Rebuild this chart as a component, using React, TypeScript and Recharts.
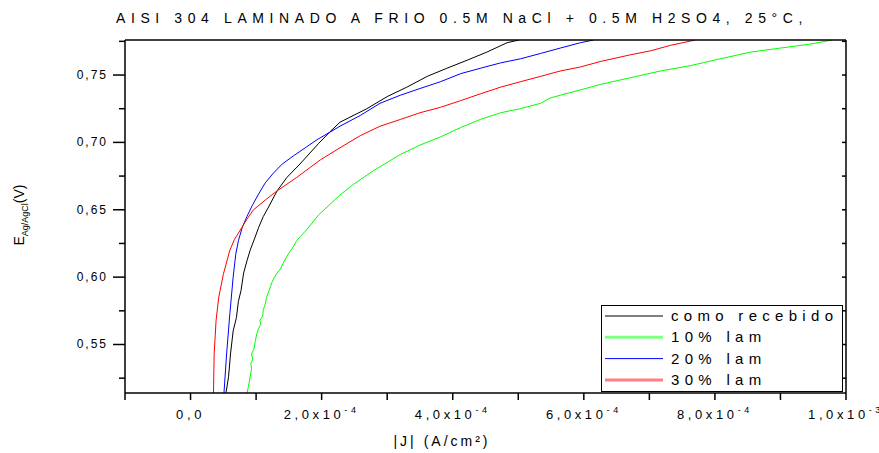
import React from "react";
import { LineChart, Line, XAxis, YAxis } from "recharts";

// |J| in units of 1e-4 A/cm², E in V vs Ag/AgCl
const jComo = [0.54, 0.58, 0.61, 0.65, 0.7, 0.73, 0.77, 0.81, 0.86, 0.91, 0.98, 1.04, 1.11, 1.19, 1.32, 1.47, 1.67, 1.95, 2.13, 2.28, 2.69, 3.0, 3.3, 3.61, 3.91, 4.22, 4.52, 4.83, 5.01];
const eComo = [0.514, 0.526, 0.543, 0.56, 0.57, 0.582, 0.59, 0.603, 0.612, 0.62, 0.629, 0.637, 0.645, 0.652, 0.664, 0.674, 0.684, 0.699, 0.708, 0.715, 0.725, 0.734, 0.741, 0.749, 0.755, 0.761, 0.767, 0.774, 0.776];

const j10 = [0.86, 0.88, 0.91, 0.93, 0.92, 0.95, 0.93, 0.97, 0.99, 1.01, 1.04, 1.07, 1.06, 1.1, 1.11, 1.14, 1.16, 1.19, 1.22, 1.24, 1.28, 1.32, 1.37, 1.42, 1.49, 1.56, 1.62, 1.67, 1.77, 1.95, 2.28, 2.49, 2.79, 3.2, 3.5, 3.81, 4.12, 4.42, 4.73, 5.03, 5.34, 5.49, 5.64, 5.95, 6.25, 6.71, 7.17, 7.63, 8.08, 8.54, 9.0, 9.46, 9.79];
const e10 = [0.514, 0.518, 0.526, 0.532, 0.536, 0.539, 0.543, 0.547, 0.553, 0.558, 0.562, 0.565, 0.568, 0.571, 0.576, 0.58, 0.585, 0.589, 0.593, 0.596, 0.6, 0.603, 0.606, 0.611, 0.617, 0.622, 0.627, 0.63, 0.635, 0.646, 0.661, 0.669, 0.679, 0.691, 0.698, 0.704, 0.711, 0.717, 0.722, 0.725, 0.729, 0.733, 0.735, 0.739, 0.743, 0.748, 0.753, 0.757, 0.762, 0.767, 0.77, 0.773, 0.776];

const j20 = [0.51, 0.55, 0.6, 0.65, 0.69, 0.73, 0.79, 0.86, 0.94, 1.03, 1.14, 1.26, 1.4, 1.57, 1.75, 1.93, 2.28, 2.59, 2.89, 3.2, 3.5, 3.81, 4.12, 4.42, 4.73, 5.03, 5.34, 5.64, 5.95, 6.15];
const e20 = [0.514, 0.543, 0.573, 0.6, 0.617, 0.627, 0.637, 0.645, 0.653, 0.661, 0.67, 0.677, 0.684, 0.69, 0.696, 0.702, 0.712, 0.72, 0.729, 0.735, 0.74, 0.745, 0.751, 0.755, 0.759, 0.762, 0.766, 0.77, 0.774, 0.776];

const j30 = [0.35, 0.36, 0.39, 0.43, 0.5, 0.6, 0.67, 0.76, 0.86, 0.96, 1.16, 1.32, 1.62, 1.98, 2.28, 2.59, 2.89, 3.2, 3.5, 3.81, 4.12, 4.42, 4.73, 5.03, 5.34, 5.64, 5.95, 6.25, 6.71, 7.02, 7.32, 7.7];
const e30 = [0.514, 0.543, 0.568, 0.585, 0.602, 0.62, 0.628, 0.635, 0.643, 0.65, 0.658, 0.664, 0.674, 0.687, 0.696, 0.705, 0.712, 0.717, 0.722, 0.726, 0.731, 0.736, 0.741, 0.745, 0.749, 0.753, 0.756, 0.76, 0.765, 0.768, 0.772, 0.776];

const xTicks = [-1, 0, 1, 2, 3, 4, 5, 6, 7, 8, 9, 10];
const yTicks = [0.525, 0.55, 0.575, 0.6, 0.625, 0.65, 0.675, 0.7, 0.725, 0.75, 0.775];
const yMajorLabels: Record<string, string> = { "0.55": "0,55", "0.6": "0,60", "0.65": "0,65", "0.7": "0,70", "0.75": "0,75" };

const legendNames = ["como recebido", "10% lam", "20% lam", "30% lam"];
const legendColors = ["#000000", "#80ff80", "#0000ff", "#ff8080"];
const legendWidths = [1, 3, 1, 3];

const zip = (j: number[], e: number[]) => j.map((v, i) => ({ j: v, e: e[i] }));

const series = [
  { name: "como recebido", data: zip(jComo, eComo), color: "#000000" },
  { name: "10% lam", data: zip(j10, e10), color: "#00ff00" },
  { name: "20% lam", data: zip(j20, e20), color: "#0000ff" },
  { name: "30% lam", data: zip(j30, e30), color: "#ff0000" },
];

const FONT = "'Liberation Sans', Arial, sans-serif";

const BottomTick = (props: any) => {
  const { x, y, payload } = props;
  const v = payload.value as number;
  const major = v % 2 === 0;
  let label: React.ReactNode = null;
  if (major) {
    if (v === 0) label = "0,0";
    else {
      const mant = v === 10 ? "1,0x10" : `${v},0x10`;
      const exp = v === 10 ? "-3" : "-4";
      label = (
        <>
          {mant}
          <tspan fontSize={9} dy={-6}>{exp}</tspan>
        </>
      );
    }
  }
  return (
    <g>
      <line x1={x} x2={x} y1={y} y2={y + 7} stroke="#000" strokeWidth={1.5} />
      {major && (
        <text x={x} y={y + 26} textAnchor="middle" fontSize={13} letterSpacing={3.6} fontFamily={FONT} fill="#000">
          {label}
        </text>
      )}
    </g>
  );
};

const LeftTick = (props: any) => {
  const { x, y, payload } = props;
  const key = String(Math.round(payload.value * 1000) / 1000);
  const label = yMajorLabels[key];
  const len = label ? 12 : 6;
  return (
    <g>
      <line x1={x - len} x2={x} y1={y} y2={y} stroke="#000" strokeWidth={1.5} />
      {label && (
        <text x={x - 17} y={y + 4} textAnchor="end" fontSize={12} letterSpacing={2} fontFamily={FONT} fill="#000">
          {label}
        </text>
      )}
    </g>
  );
};

const TopTick = (props: any) => {
  const { x, y } = props;
  return <line x1={x} x2={x} y1={y} y2={y + 4} stroke="#000" strokeWidth={1.5} />;
};

const RightTick = (props: any) => {
  const { x, y } = props;
  return <line x1={x - 4} x2={x} y1={y} y2={y} stroke="#000" strokeWidth={1.5} />;
};

export default function App() {
  return (
    <div style={{ position: "absolute", left: 0, top: 0, width: 879, height: 453, background: "#fff", fontFamily: FONT }}>
      <LineChart width={879} height={453} margin={{ top: 39, right: 32, bottom: 0, left: 0 }}>
        <XAxis
          dataKey="j"
          type="number"
          domain={[-1, 10]}
          ticks={xTicks}
          allowDataOverflow
          height={60}
          tickSize={0}
          tickMargin={0}
          tickLine={false}
          tick={<BottomTick />}
          axisLine={{ stroke: "#000", strokeWidth: 1.5 }}
          interval={0}
        />
        <XAxis
          xAxisId="top"
          orientation="top"
          type="number"
          domain={[-1, 10]}
          ticks={xTicks}
          allowDataOverflow
          height={1}
          tickSize={0}
          tickMargin={0}
          tickLine={false}
          tick={<TopTick />}
          axisLine={{ stroke: "#000", strokeWidth: 1.5 }}
          interval={0}
        />
        <YAxis
          dataKey="e"
          type="number"
          domain={[0.514, 0.776]}
          ticks={yTicks}
          allowDataOverflow
          width={125}
          tickSize={0}
          tickMargin={0}
          tickLine={false}
          tick={<LeftTick />}
          axisLine={{ stroke: "#000", strokeWidth: 1.5 }}
          interval={0}
        />
        <YAxis
          yAxisId="right"
          orientation="right"
          type="number"
          domain={[0.514, 0.776]}
          ticks={yTicks}
          allowDataOverflow
          width={1}
          tickSize={0}
          tickMargin={0}
          tickLine={false}
          tick={<RightTick />}
          axisLine={{ stroke: "#000", strokeWidth: 1.5 }}
          interval={0}
        />
        {series.map((s) => (
          <Line
            key={s.name}
            data={s.data}
            dataKey="e"
            name={s.name}
            type="linear"
            stroke={s.color}
            strokeWidth={1}
            dot={false}
            activeDot={false}
            isAnimationActive={false}
          />
        ))}
      </LineChart>
      <svg width={879} height={453} style={{ position: "absolute", left: 0, top: 0, pointerEvents: "none" }}>
        <text x={116} y={23} fontSize={14} letterSpacing={5.6} fontFamily={FONT} fill="#000">
          AISI 304 LAMINADO A FRIO 0.5M NaCl + 0.5M H2SO4, 25°C,
        </text>
        <text x={442} y={446} textAnchor="middle" fontSize={14} letterSpacing={3} fontFamily={FONT} fill="#000">
          |J| (A/cm²)
        </text>
        <text transform="rotate(-90)" x={-215} y={24} textAnchor="middle" fontSize={14} fontFamily={FONT} fill="#000">
          E
          <tspan fontSize={9} dy={4}>Ag/AgCl</tspan>
          <tspan dy={-4} fontSize={14}>(V)</tspan>
        </text>
        <rect x={601.5} y={305.5} width={241} height={86} fill="#fff" stroke="#000" strokeWidth={1} />
        {legendNames.map((n, i) => {
          const ly = 316 + i * 21.3;
          return (
            <g key={n}>
              <line x1={605} x2={663} y1={ly} y2={ly} stroke={legendColors[i]} strokeWidth={legendWidths[i]} />
              <text x={671} y={ly + 5} fontSize={15} letterSpacing={5.3} fontFamily={FONT} fill="#000">
                {n}
              </text>
            </g>
          );
        })}
      </svg>
    </div>
  );
}
